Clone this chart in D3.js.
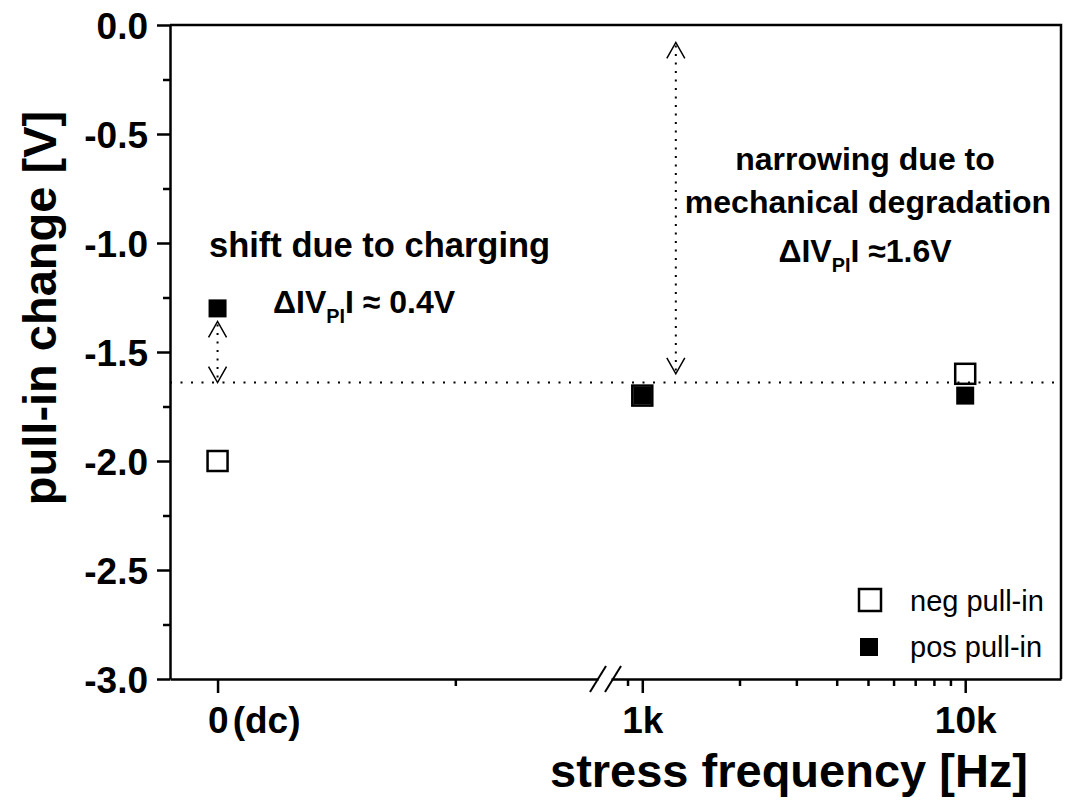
<!DOCTYPE html>
<html>
<head>
<meta charset="utf-8">
<script src="https://cdn.jsdelivr.net/npm/d3@7"></script>
<style>
    body { margin: 0; background: #fff; }
    svg { display: block; }
    text { font-family: "Liberation Sans", Arial, sans-serif; fill: #000; }
    .axis path, .axis line { stroke: #000; stroke-width: 2.5; }
    .axis text { font-weight: bold; font-size: 37px; }
</style>
</head>
<body>
<script>
// data
const categories = ["0", "(dc)", "1k", "10k"];
const frequencies = [0, 1000, 10000];      // 0 = dc, drawn on the linear piece left of the break
const negPullIn = [-2.0, -1.7, -1.6];
const posPullIn = [-1.3, -1.7, -1.7];
const yTicks = [0, -0.5, -1.0, -1.5, -2.0, -2.5, -3.0];
const yMinorTicks = [-0.25, -0.75, -1.25, -1.75, -2.25, -2.75];
const dcMinorTicks = [1];
const logMajorTicks = [1000, 10000];
const logMinorTicks = [900, 2000, 3000, 4000, 5000, 6000, 7000, 8000, 9000];
const referenceLevel = -1.64;
const chargingShift = [-1.36, -1.64];
const degradationSpan = [-0.08, -1.6];
const degradationFreq = 1270;

const width = 1072, height = 801;
const margins = {top: 25, left: 170, right: 11, bottom: 122};

const svg = d3.select("body").append("svg")
    .attr("width", width)
    .attr("height", height);

const y = d3.scaleLinear().domain([0, -3]).range([margins.top, height - margins.bottom]);
// broken x axis: linear piece for dc, log piece for 1k..
const xDc = d3.scaleLinear().domain([-0.2, 1.6]).range([margins.left, 598]);
const xLog = d3.scaleLog().domain([800, 19800]).range([611, width - margins.right]);

function xPos(i){
    return frequencies[i] === 0 ? xDc(0) : xLog(frequencies[i]);
}

const y0 = y(-3);

// y axis, major + minor
svg.append("g").attr("class", "axis")
    .attr("transform", "translate(" + margins.left + ",0)")
    .call(d3.axisLeft(y).tickValues(yTicks).tickSize(13).tickSizeOuter(0)
        .tickPadding(9).tickFormat(d3.format(".1f")))
    .call(g => g.selectAll("text").attr("dy", "0.36em").text(d => d === 0 ? "0.0" : d3.format(".1f")(d).replace("−", "-")));

svg.append("g").attr("class", "axis")
    .attr("transform", "translate(" + margins.left + ",0)")
    .call(d3.axisLeft(y).tickValues(yMinorTicks).tickSize(7).tickSizeOuter(0).tickFormat(""))
    .call(g => g.select(".domain").remove());

// bottom axis, dc piece
svg.append("g").attr("class", "axis")
    .attr("transform", "translate(0," + y0 + ")")
    .call(d3.axisBottom(xDc).tickValues([0]).tickSize(14).tickSizeOuter(0).tickPadding(8).tickFormat(""))
    .call(g => {
        const t = g.selectAll(".tick").append("text")
            .attr("x", -10).attr("y", 54)
            .attr("text-anchor", "start");
        t.append("tspan").text(categories[0]);
        t.append("tspan").attr("dx", 4).text(categories[1]);
    });

svg.append("g").attr("class", "axis")
    .attr("transform", "translate(0," + y0 + ")")
    .call(d3.axisBottom(xDc).tickValues(dcMinorTicks).tickSize(7).tickSizeOuter(0).tickFormat(""))
    .call(g => g.select(".domain").remove());

// bottom axis, log piece
svg.append("g").attr("class", "axis")
    .attr("transform", "translate(0," + y0 + ")")
    .call(d3.axisBottom(xLog).tickValues(logMajorTicks).tickSize(14).tickSizeOuter(0).tickPadding(8)
        .tickFormat((d, i) => categories[i + 2]))
    .call(g => g.selectAll("text").attr("dy", null).attr("y", 54));

svg.append("g").attr("class", "axis")
    .attr("transform", "translate(0," + y0 + ")")
    .call(d3.axisBottom(xLog).tickValues(logMinorTicks).tickSize(7).tickSizeOuter(0).tickFormat(""))
    .call(g => g.select(".domain").remove());

// break marks
const breaks = svg.append("g").attr("stroke", "#000").attr("stroke-width", 2);
[xDc.range()[1], xLog.range()[0] + 2].forEach(bx => {
    breaks.append("line")
        .attr("x1", bx - 8).attr("y1", y0 + 13)
        .attr("x2", bx + 8).attr("y2", y0 - 13);
});

// top + right frame
svg.append("path")
    .attr("d", "M" + margins.left + "," + y(0) + "H" + xLog.range()[1] + "V" + y0)
    .attr("fill", "none").attr("stroke", "#000").attr("stroke-width", 2.5);

// reference level
svg.append("line")
    .attr("x1", xDc.range()[0]).attr("x2", xLog.range()[1] - 6)
    .attr("y1", y(referenceLevel)).attr("y2", y(referenceLevel))
    .attr("stroke", "#000").attr("stroke-width", 2)
    .attr("stroke-dasharray", "2,8.5");

// double-headed dotted arrows
function arrow(x, v0, v1){
    const ya = y(v0), yb = y(v1);
    const g = svg.append("g").attr("stroke", "#000").attr("fill", "none");
    g.append("line")
        .attr("x1", x).attr("x2", x).attr("y1", ya + 3).attr("y2", yb - 3)
        .attr("stroke-width", 2).attr("stroke-dasharray", "2,6.5");
    g.append("path")
        .attr("d", "M" + (x - 9) + "," + (ya + 16) + "L" + x + "," + ya + "L" + (x + 9) + "," + (ya + 16))
        .attr("stroke-width", 1.5);
    g.append("path")
        .attr("d", "M" + (x - 9) + "," + (yb - 16) + "L" + x + "," + yb + "L" + (x + 9) + "," + (yb - 16))
        .attr("stroke-width", 1.5);
}
arrow(xDc(0), chargingShift[0], chargingShift[1]);
arrow(xLog(degradationFreq), degradationSpan[0], degradationSpan[1]);

// data points
const pts = svg.append("g");
pts.selectAll(".pos").data(posPullIn).enter().append("rect")
    .attr("class", "pos")
    .attr("x", (d, i) => xPos(i) - 9).attr("y", d => y(d) - 9)
    .attr("width", 18).attr("height", 18)
    .attr("fill", "#000");
pts.selectAll(".neg").data(negPullIn).enter().append("rect")
    .attr("class", "neg")
    .attr("x", (d, i) => xPos(i) - 10).attr("y", d => y(d) - 10)
    .attr("width", 20).attr("height", 20)
    .attr("fill", "none").attr("stroke", "#000").attr("stroke-width", 2.5);

// legend
const legend = svg.append("g");
legend.append("rect").attr("x", 859).attr("y", 589).attr("width", 22).attr("height", 22)
    .attr("fill", "#fff").attr("stroke", "#000").attr("stroke-width", 2.5);
legend.append("rect").attr("x", 860).attr("y", 638).attr("width", 18).attr("height", 18)
    .attr("fill", "#000");
legend.append("text").attr("x", 910).attr("y", 611).attr("font-size", 29).text("neg pull-in");
legend.append("text").attr("x", 910).attr("y", 657).attr("font-size", 29).text("pos pull-in");

// annotations
function deltaText(x, yy, size, anchor, tail){
    const t = svg.append("text").attr("x", x).attr("y", yy)
        .attr("font-size", size).attr("font-weight", "bold")
        .attr("text-anchor", anchor);
    t.append("tspan").text("\u0394IV");
    t.append("tspan").attr("font-size", size * 0.62).attr("dy", size * 0.32).text("PI");
    t.append("tspan").attr("dy", -size * 0.32).text(tail);
}

svg.append("text").attr("x", 209).attr("y", 257)
    .attr("font-size", 34.5).attr("font-weight", "bold")
    .text("shift due to charging");
deltaText(273, 313, 32, "start", "I \u2248 0.4V");

svg.append("text").attr("x", 865).attr("y", 170)
    .attr("font-size", 32).attr("font-weight", "bold").attr("text-anchor", "middle")
    .text("narrowing due to");
svg.append("text").attr("x", 868).attr("y", 213)
    .attr("font-size", 32).attr("font-weight", "bold").attr("text-anchor", "middle")
    .text("mechanical degradation");
deltaText(865, 262, 32, "middle", "I  \u22481.6V");

// axis titles
svg.append("text")
    .attr("transform", "translate(56," + 308 + ") rotate(-90)")
    .attr("text-anchor", "middle")
    .attr("font-size", 47).attr("font-weight", "bold")
    .text("pull-in change [V]");

svg.append("text")
    .attr("x", 1028).attr("y", 787)
    .attr("text-anchor", "end")
    .attr("font-size", 47).attr("font-weight", "bold")
    .text("stress frequency [Hz]");
</script>
</body>
</html>
